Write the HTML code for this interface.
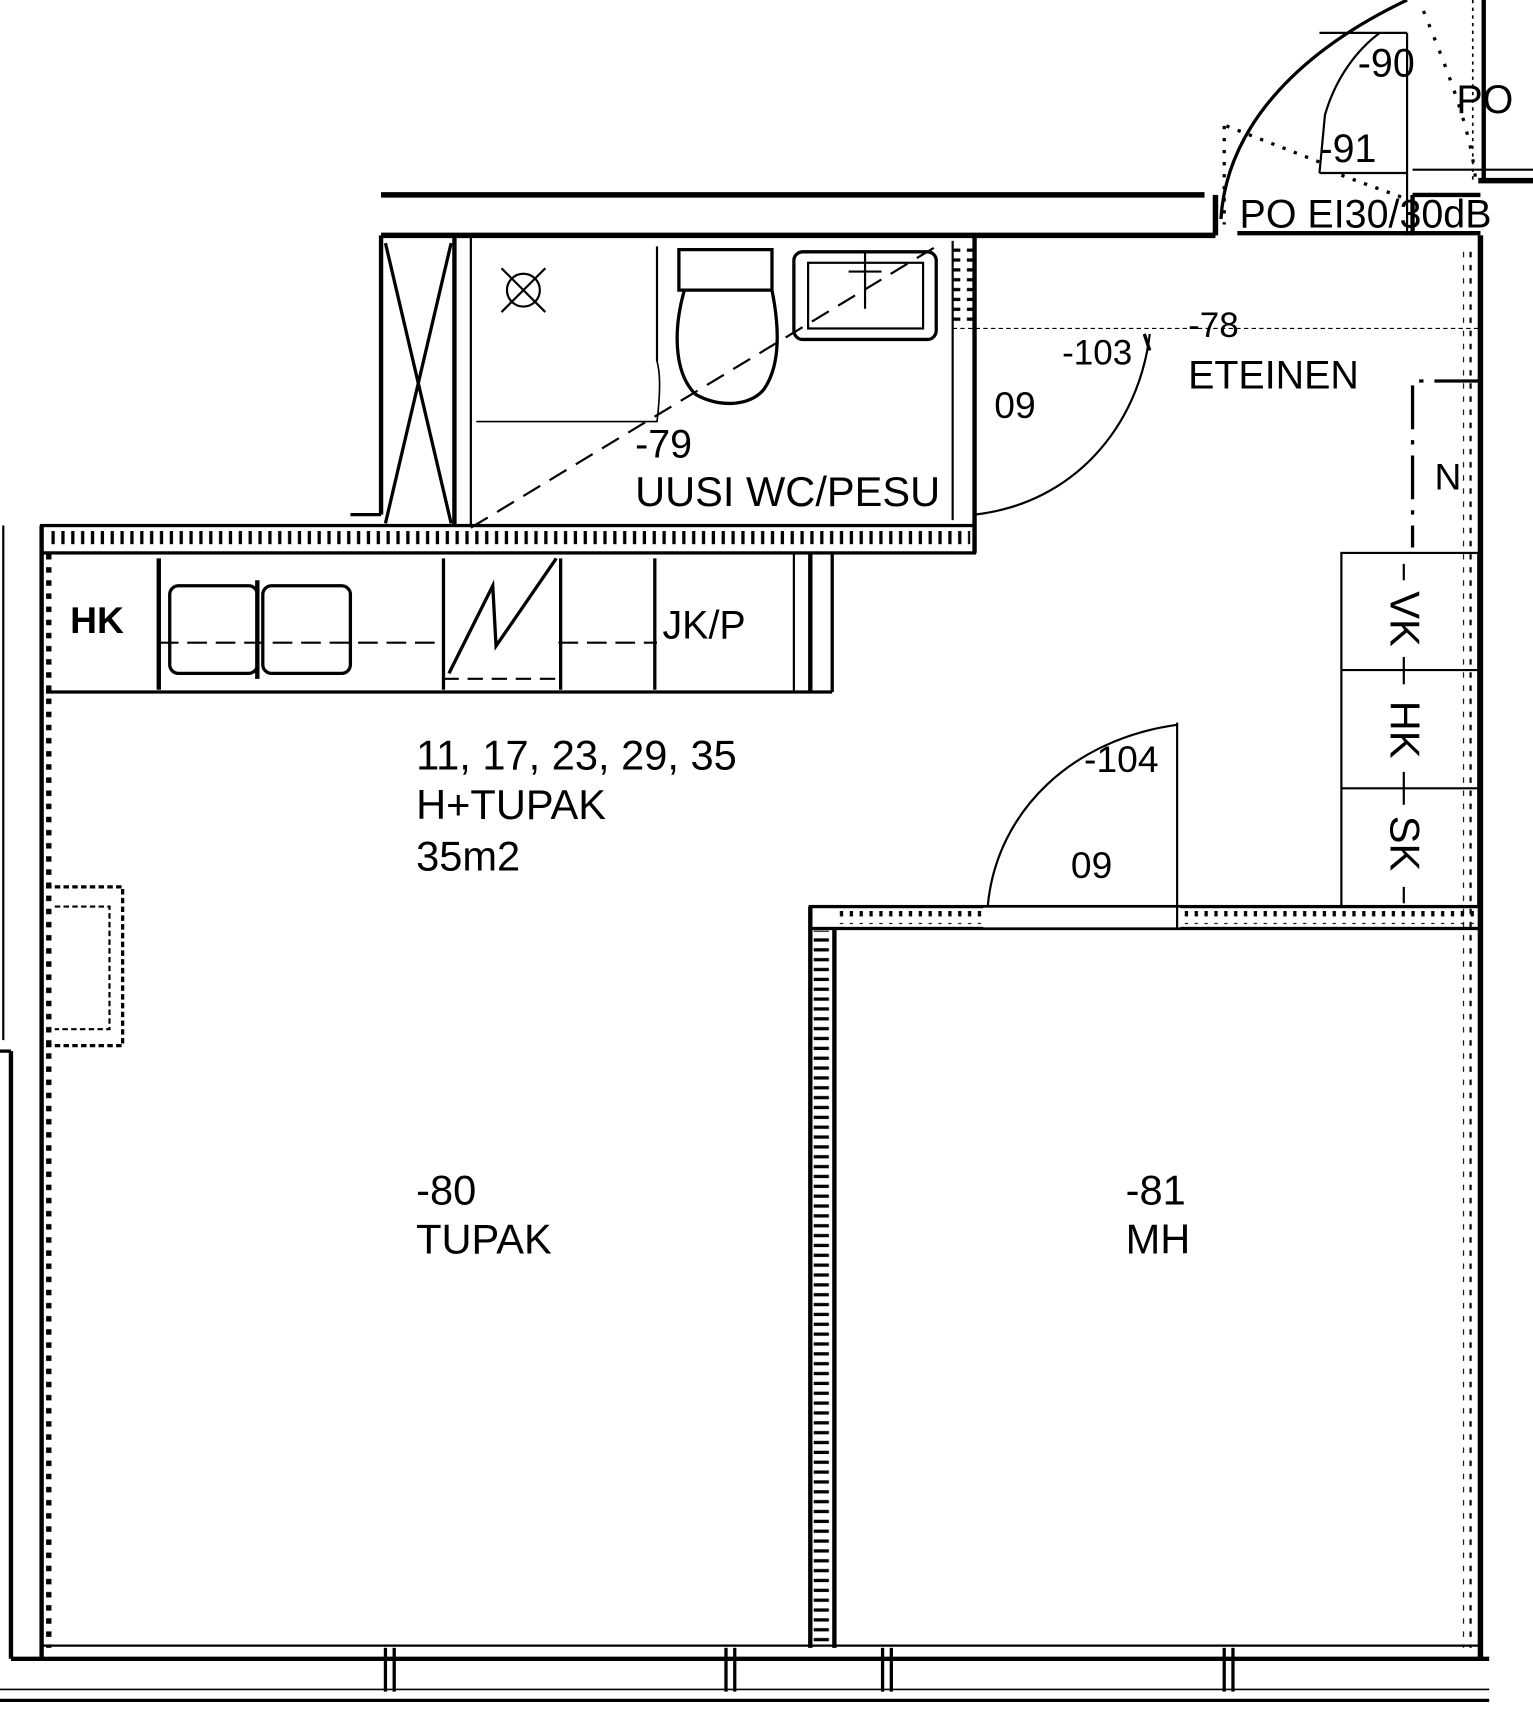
<!DOCTYPE html>
<html><head><meta charset="utf-8"><style>
html,body{margin:0;padding:0;background:#fff;}
svg{display:block;}
text{font-family:"Liberation Sans Narrow","Liberation Sans",sans-serif;fill:#000;}
</style></head><body>
<svg width="1533" height="1719" viewBox="0 0 1400 1570" preserveAspectRatio="none" xmlns="http://www.w3.org/2000/svg">
<defs>
<pattern id="hv" width="9" height="20" patternUnits="userSpaceOnUse"><rect x="2" y="3" width="3" height="14" fill="#000"/></pattern>
<pattern id="hh" width="20" height="9" patternUnits="userSpaceOnUse"><rect x="3" y="2" width="14" height="3" fill="#000"/></pattern>
<pattern id="dv" width="10" height="12" patternUnits="userSpaceOnUse"><rect x="2" y="2" width="5" height="5" fill="#000"/></pattern>
</defs>
<g fill="none" stroke="#000" stroke-width="3">
<!-- outer left edges -->
<line x1="3" y1="480" x2="3" y2="950" stroke-width="2"/>
<line x1="10" y1="960" x2="10" y2="1515" stroke-width="4"/>
<line x1="0" y1="960" x2="10" y2="960"/>
<!-- left wall -->
<line x1="38" y1="480" x2="38" y2="1515" stroke-width="4"/>
<rect x="42" y="505" width="6" height="1000" fill="url(#dv)" stroke="none"/>
<!-- bottom wall -->
<line x1="10" y1="1515" x2="1360" y2="1515" stroke-width="4"/>
<line x1="38" y1="1503" x2="1350" y2="1503" stroke-width="2"/>
<line x1="0" y1="1553" x2="1360" y2="1553" stroke-width="3"/>
<line x1="0" y1="1543" x2="1360" y2="1543" stroke-width="1.5"/>
<g stroke-width="3"><line x1="352" y1="1505" x2="352" y2="1545"/><line x1="360" y1="1505" x2="360" y2="1545"/><line x1="663" y1="1505" x2="663" y2="1545"/><line x1="671" y1="1505" x2="671" y2="1545"/><line x1="806" y1="1505" x2="806" y2="1545"/><line x1="814" y1="1505" x2="814" y2="1545"/><line x1="1118" y1="1505" x2="1118" y2="1545"/><line x1="1126" y1="1505" x2="1126" y2="1545"/></g>
<!-- right wall -->
<line x1="1352" y1="215" x2="1352" y2="1515" stroke-width="5"/>
<rect x="1336" y="225" width="8" height="1280" fill="url(#dv)" stroke="none"/>
<line x1="1355" y1="0" x2="1355" y2="165" stroke-width="4"/>
<line x1="1345" y1="0" x2="1345" y2="165" stroke-width="1.5" stroke-dasharray="3 4"/>
<!-- top corridor walls -->
<line x1="348" y1="178" x2="1100" y2="178" stroke-width="5"/>
<line x1="348" y1="215" x2="1110" y2="215" stroke-width="5"/>
<line x1="1110" y1="178" x2="1110" y2="215" stroke-width="5"/>
<line x1="1290" y1="155" x2="1400" y2="155" stroke-width="2"/>
<line x1="1350" y1="165" x2="1400" y2="165" stroke-width="5"/>
<line x1="1130" y1="213" x2="1352" y2="213" stroke-width="4"/>
<line x1="1290" y1="178" x2="1290" y2="215" stroke-width="4"/>
<line x1="1290" y1="178" x2="1352" y2="178" stroke-width="4"/>
<!-- door PO -->
<path d="M1115 200 C1120 120 1180 50 1285 0"/>
<line x1="1285" y1="30" x2="1285" y2="215" stroke-width="2"/>
<line x1="1205" y1="30" x2="1285" y2="30" stroke-width="2"/>
<path d="M1205 158 L1210 105 C1220 70 1240 45 1260 30" stroke-width="2"/>
<line x1="1205" y1="158" x2="1285" y2="158" stroke-width="2"/>
<path d="M1120 115 L1205 148" stroke-dasharray="3 8" stroke-width="3"/>
<path d="M1118 115 L1118 205" stroke-dasharray="3 8" stroke-width="3"/>
<path d="M1300 10 C1320 60 1345 120 1348 170" stroke-dasharray="3 10" stroke-width="3"/>
<path d="M1225 160 L1280 180" stroke-dasharray="3 8" stroke-width="3"/>
<!-- bathroom -->
<line x1="348" y1="215" x2="348" y2="470" stroke-width="4"/>
<line x1="320" y1="470" x2="348" y2="470" stroke-width="3"/>
<line x1="415" y1="215" x2="415" y2="480" stroke-width="4"/>
<line x1="430" y1="215" x2="430" y2="480" stroke-width="2"/>
<line x1="352" y1="222" x2="412" y2="478" stroke-width="3"/>
<line x1="412" y1="222" x2="352" y2="478" stroke-width="3"/>
<line x1="890" y1="215" x2="890" y2="505" stroke-width="4"/>
<line x1="870" y1="220" x2="870" y2="475" stroke-width="2"/>
<rect x="870" y="225" width="20" height="70" fill="url(#hh)" stroke="none"/>
<line x1="600" y1="225" x2="600" y2="330" stroke-width="2"/>
<path d="M435 385 L600 385 C603 360 603 340 600 330" stroke-width="1.5" stroke-dasharray="0"/>
<circle cx="478" cy="265" r="15" stroke-width="2"/>
<path d="M458 245 L498 285 M498 245 L458 285" stroke-width="2"/>
<path d="M620 228 H705 V265 H620 Z M625 265 C615 300 615 340 635 360 C655 372 685 372 698 355 C715 330 710 290 705 265" stroke-width="3"/>
<rect x="725" y="230" width="130" height="80" rx="8" stroke-width="3"/>
<rect x="738" y="240" width="105" height="60" stroke-width="2"/>
<line x1="790" y1="230" x2="790" y2="282" stroke-width="2"/><line x1="775" y1="248" x2="805" y2="248" stroke-width="2"/>
<line x1="430" y1="482" x2="860" y2="222" stroke-width="2" stroke-dasharray="18 10"/>
<line x1="870" y1="300" x2="1350" y2="300" stroke-width="1" stroke-dasharray="4 3"/>
<!-- bathroom door arc -->
<line x1="1045" y1="305" x2="1050" y2="320" stroke-width="3"/>
<path d="M890 470 C980 460 1040 390 1050 305" stroke-width="2"/>
<!-- kitchen wall -->
<rect x="38" y="480" width="852" height="25" stroke-width="3"/>
<rect x="42" y="485" width="844" height="15" fill="url(#hv)" stroke="none"/>
<!-- counter -->
<line x1="42" y1="632" x2="760" y2="632" stroke-width="3"/>
<line x1="740" y1="505" x2="740" y2="632" stroke-width="4"/>
<line x1="760" y1="505" x2="760" y2="632" stroke-width="3"/>
<line x1="725" y1="505" x2="725" y2="632" stroke-width="2"/>
<line x1="145" y1="510" x2="145" y2="630" stroke-width="4"/>
<rect x="155" y="535" width="80" height="80" rx="8" stroke-width="3"/>
<rect x="240" y="535" width="80" height="80" rx="8" stroke-width="3"/>
<line x1="235" y1="530" x2="235" y2="620" stroke-width="4"/>
<line x1="145" y1="587" x2="405" y2="587" stroke-width="2" stroke-dasharray="18 8"/>
<line x1="510" y1="587" x2="600" y2="587" stroke-width="2" stroke-dasharray="18 8"/>
<line x1="405" y1="510" x2="405" y2="630" stroke-width="3"/>
<line x1="512" y1="510" x2="512" y2="630" stroke-width="3"/>
<line x1="405" y1="620" x2="512" y2="620" stroke-width="2" stroke-dasharray="14 8"/>
<path d="M410 615 L450 535 L453 590 L508 510" stroke-width="3"/>
<line x1="598" y1="510" x2="598" y2="630" stroke-width="3"/>
<!-- fireplace dashed -->
<path d="M42 810 H112 V955 H42" stroke-width="3" stroke-dasharray="5 3"/>
<path d="M50 828 H100 V940 H50" stroke-width="2" stroke-dasharray="5 3"/>
<!-- bedroom walls -->
<rect x="740" y="828" width="612" height="20" stroke-width="3"/>
<rect x="763" y="832" width="135" height="12" fill="url(#hv)" stroke="none"/>
<rect x="1080" y="832" width="270" height="12" fill="url(#hv)" stroke="none"/>
<rect x="898" y="829" width="180" height="18" fill="#fff" stroke="none"/>
<line x1="740" y1="828" x2="740" y2="1505" stroke-width="4"/>
<line x1="762" y1="848" x2="762" y2="1505" stroke-width="4"/>
<rect x="743" y="850" width="16" height="650" fill="url(#hh)" stroke="none"/>
<line x1="1075" y1="660" x2="1075" y2="848" stroke-width="2"/>
<path d="M902 828 C910 740 980 675 1075 662" stroke-width="2"/>
<!-- closets -->
<rect x="1225" y="505" width="125" height="323" stroke-width="2"/>
<line x1="1225" y1="612" x2="1350" y2="612" stroke-width="2"/>
<line x1="1225" y1="720" x2="1350" y2="720" stroke-width="2"/>
<line x1="1282" y1="515" x2="1282" y2="530" stroke-width="2"/><line x1="1282" y1="600" x2="1282" y2="625" stroke-width="2"/><line x1="1282" y1="705" x2="1282" y2="735" stroke-width="2"/><line x1="1282" y1="810" x2="1282" y2="825" stroke-width="2"/>
<!-- N cabinet -->
<path d="M1350 348 H1290 V500" stroke-width="3" stroke-dasharray="40 10 4 10"/>
</g>
<g font-size="38">
<text x="1132" y="208" font-size="36">PO EI30/30dB</text>
<text x="1240" y="70" font-size="36">-90</text>
<text x="1205" y="148" font-size="36">-91</text>
<text x="1330" y="103" font-size="36">PO</text>
<text x="1085" y="308" font-size="32">-78</text>
<text x="1085" y="355" font-size="36">ETEINEN</text>
<text x="970" y="333" font-size="32">-103</text>
<text x="908" y="382" font-size="34">09</text>
<text x="580" y="418" font-size="36">-79</text>
<text x="580" y="462" font-size="38">UUSI WC/PESU</text>
<text x="1310" y="447" font-size="34">N</text>
<text x="64" y="578" font-size="34" font-weight="bold">HK</text>
<text x="605" y="583" font-size="36">JK/P</text>
<text x="380" y="703" font-size="38">11, 17, 23, 29, 35</text>
<text x="380" y="748" font-size="38">H+TUPAK</text>
<text x="380" y="795" font-size="38">35m2</text>
<text x="990" y="705" font-size="34">-104</text>
<text x="978" y="802" font-size="34">09</text>
<text x="380" y="1100" font-size="38">-80</text>
<text x="380" y="1145" font-size="38">TUPAK</text>
<text x="1028" y="1100" font-size="38">-81</text>
<text x="1028" y="1145" font-size="38">MH</text>
<text transform="translate(1270,540) rotate(90)" font-size="38">VK</text>
<text transform="translate(1270,640) rotate(90)" font-size="38">HK</text>
<text transform="translate(1270,745) rotate(90)" font-size="38">SK</text>
</g>
</svg>
</body></html>
